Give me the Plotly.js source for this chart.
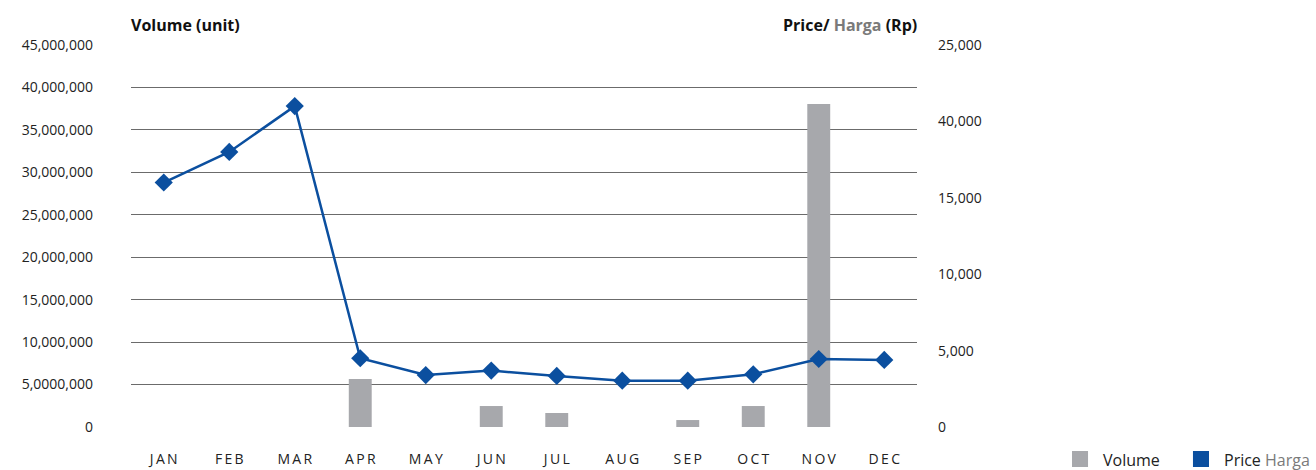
<!DOCTYPE html>
<html>
<head>
<meta charset="utf-8">
<script src="https://cdn.plot.ly/plotly-3.0.1.min.js"></script>
<style>html,body{margin:0;padding:0;background:#fff;}#chart{width:1316px;height:470px;}</style>
</head>
<body>
<div id="chart"></div>
<script>
const months = ["JAN","FEB","MAR","APR","MAY","JUN","JUL","AUG","SEP","OCT","NOV","DEC"];
const monthLabels = ["J\u2009A\u2009N","F\u2009E\u2009B","M\u2009A\u2009R","A\u2009P\u2009R","M\u2009A\u2009Y","J\u2009U\u2009N","J\u2009U\u2009L","A\u2009U\u2009G","S\u2009E\u2009P","O\u2009C\u2009T","N\u2009O\u2009V","D\u2009E\u2009C"];
const volume = [0, 0, 0, 5650000, 0, 2470000, 1650000, 0, 820000, 2470000, 38050000, 0];
const price = [16000, 18000, 21000, 4500, 3400, 3690, 3340, 3030, 3030, 3450, 4450, 4390];
const leftTickVals = [0, 5000000, 10000000, 15000000, 20000000, 25000000, 30000000, 35000000, 40000000, 45000000];
const leftTickText = ["0","5,0000,000","10,000,000","15,000,000","20,000,000","25,000,000","30,000,000","35,000,000","40,000,000","45,000,000"];
const rightTickVals = [0, 5000, 10000, 15000, 20000, 25000];
const rightTickText = ["0","5,000","10,000","15,000","40,000","25,000"];

const FONT = "Open Sans, Lato, sans-serif";
const BLUE = "#0b4f9f";
const GREY = "#a7a8ac";

const traces = [
  {
    type: "bar", x: months, y: volume, name: "Volume",
    marker: {color: GREY}, width: 0.35, yaxis: "y", hoverinfo: "skip"
  },
  {
    type: "scatter", mode: "lines+markers", x: months, y: price, name: "Price Harga",
    yaxis: "y2", line: {color: BLUE, width: 2.5},
    marker: {symbol: "diamond", size: 14, color: BLUE}, hoverinfo: "skip"
  }
];

const layout = {
  width: 1316, height: 470,
  margin: {l: 131, r: 399, t: 45, b: 43},
  paper_bgcolor: "#fff", plot_bgcolor: "#fff",
  showlegend: false,
  font: {family: FONT, color: "#222", size: 14},
  xaxis: {
    type: "category", tickvals: months, ticktext: monthLabels,
    showgrid: false, zeroline: false, showline: false, ticks: "",
    tickfont: {size: 14, color: "#222"}, ticklabelstandoff: 22,
    range: [-0.5, 11.5]
  },
  yaxis: {
    range: [0, 45000000], tickvals: leftTickVals, ticktext: leftTickText,
    showgrid: true, gridcolor: "#6b6b6b", gridwidth: 1,
    zeroline: false, showline: false, ticks: "",
    tickfont: {size: 14, color: "#222"}, ticklabelstandoff: 37
  },
  yaxis2: {
    range: [0, 25000], overlaying: "y", side: "right",
    tickvals: rightTickVals, ticktext: rightTickText,
    showgrid: false, zeroline: false, showline: false, ticks: "",
    tickfont: {size: 14, color: "#222"}, ticklabelstandoff: 20
  },
  annotations: [
    {xref: "paper", yref: "paper", x: 0, y: 1, yshift: 20, xanchor: "left", yanchor: "middle", xshift: -2,
     text: "<b>Volume (unit)</b>", showarrow: false, font: {size: 16, color: "#111", family: FONT}},
    {xref: "paper", yref: "paper", x: 1, y: 1, yshift: 20, xanchor: "right", yanchor: "middle", xshift: 2,
     text: "<b>Price/ <span style='color:#7a7a7a'>Harga</span> (Rp)</b>", showarrow: false, font: {size: 16, color: "#111", family: FONT}},
    {xref: "paper", yref: "paper", x: 1.2341, y: 0, yshift: -33, xanchor: "left", yanchor: "middle",
     text: "Volume", showarrow: false, font: {size: 16, color: "#222", family: FONT}},
    {xref: "paper", yref: "paper", x: 1.3880, y: 0, yshift: -33, xanchor: "left", yanchor: "middle",
     text: "Price <span style='color:#7a7a7a'>Harga</span>", showarrow: false, font: {size: 16, color: "#222", family: FONT}}
  ],
  shapes: [
    {type: "rect", xref: "paper", yref: "paper", x0: 1.1972, x1: 1.2176, y0: -0.0628, y1: -0.1047,
     fillcolor: GREY, line: {width: 0}},
    {type: "rect", xref: "paper", yref: "paper", x0: 1.3511, x1: 1.3715, y0: -0.0628, y1: -0.1047,
     fillcolor: BLUE, line: {width: 0}}
  ]
};

Plotly.newPlot("chart", traces, layout, {displayModeBar: false, staticPlot: true});
</script>
</body>
</html>
